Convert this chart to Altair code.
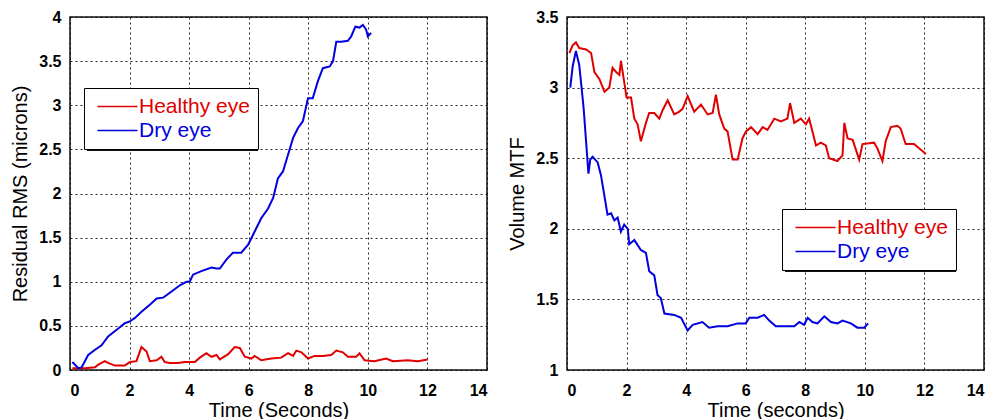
import altair as alt
import pandas as pd

# ---------------- data ----------------
# Left panel: Residual RMS (microns)
lh_t = [0.08, 0.50, 0.84, 0.95, 1.17, 1.28, 1.51, 1.84, 2.01, 2.23, 2.40, 2.57, 2.68, 2.91, 3.07, 3.18,
        3.35, 3.63, 3.85, 4.19, 4.36, 4.58, 4.75, 4.92, 5.03, 5.31, 5.53, 5.70, 5.87, 6.09, 6.20, 6.42,
        6.76, 7.09, 7.32, 7.49, 7.60, 7.77, 7.99, 8.21, 8.49, 8.77, 8.94, 9.16, 9.33, 9.61, 9.72, 9.89,
        10.22, 10.61, 10.84, 11.34, 11.68, 12.01]
lh_y = [0.02, 0.02, 0.03, 0.06, 0.10, 0.08, 0.05, 0.05, 0.09, 0.10, 0.26, 0.21, 0.10, 0.11, 0.15, 0.09,
        0.08, 0.08, 0.09, 0.09, 0.14, 0.19, 0.15, 0.17, 0.12, 0.18, 0.26, 0.25, 0.15, 0.13, 0.16, 0.11,
        0.13, 0.14, 0.19, 0.16, 0.22, 0.20, 0.13, 0.16, 0.16, 0.17, 0.22, 0.20, 0.15, 0.15, 0.19, 0.11,
        0.10, 0.13, 0.10, 0.11, 0.10, 0.12]

ld_t = [0.08, 0.28, 0.39, 0.61, 0.84, 1.06, 1.28, 1.62, 1.84, 2.01, 2.18, 2.40, 2.68, 2.91, 3.13, 3.41,
        3.69, 3.91, 4.02, 4.13, 4.41, 4.75, 4.92, 5.03, 5.25, 5.47, 5.75, 5.98, 6.20, 6.42, 6.65, 6.82,
        6.98, 7.15, 7.32, 7.49, 7.65, 7.82, 7.99, 8.15, 8.32, 8.49, 8.72, 8.83, 8.94, 9.11, 9.33, 9.44,
        9.58, 9.72, 9.83, 9.94, 10.00, 10.11]
ld_y = [0.09, 0.02, 0.03, 0.17, 0.23, 0.28, 0.38, 0.47, 0.53, 0.55, 0.59, 0.66, 0.74, 0.81, 0.82, 0.89,
        0.96, 1.00, 1.00, 1.08, 1.12, 1.16, 1.15, 1.15, 1.25, 1.33, 1.33, 1.42, 1.57, 1.72, 1.83, 1.95,
        2.17, 2.25, 2.44, 2.63, 2.74, 2.82, 3.08, 3.08, 3.27, 3.42, 3.44, 3.50, 3.72, 3.72, 3.73, 3.78,
        3.89, 3.88, 3.91, 3.86, 3.78, 3.82]

# Right panel: Volume MTF
rh_t = [0.08, 0.19, 0.30, 0.41, 0.64, 0.81, 0.92, 1.09, 1.26, 1.42, 1.53, 1.65, 1.76, 1.81, 1.92, 2.00,
        2.15, 2.26, 2.37, 2.48, 2.65, 2.76, 2.93, 3.10, 3.21, 3.38, 3.60, 3.77, 3.88, 4.05, 4.27, 4.50,
        4.72, 4.89, 5.00, 5.11, 5.28, 5.39, 5.56, 5.73, 5.89, 6.01, 6.18, 6.40, 6.57, 6.73, 6.96, 7.18,
        7.40, 7.49, 7.63, 7.85, 8.02, 8.13, 8.36, 8.52, 8.69, 8.80, 9.08, 9.25, 9.31, 9.42, 9.59, 9.81,
        9.92, 10.31, 10.42, 10.59, 10.70, 10.87, 11.09, 11.20, 11.37, 11.65, 11.82, 12.05]
rh_y = [3.245, 3.30, 3.32, 3.28, 3.27, 3.245, 3.11, 3.06, 2.97, 3.00, 3.14, 3.11, 3.09, 3.19, 3.04, 2.93,
        2.93, 2.78, 2.74, 2.62, 2.75, 2.82, 2.82, 2.78, 2.84, 2.91, 2.81, 2.83, 2.85, 2.94, 2.83, 2.88,
        2.81, 2.82, 2.95, 2.81, 2.71, 2.69, 2.49, 2.49, 2.64, 2.69, 2.72, 2.67, 2.72, 2.70, 2.78, 2.76,
        2.78, 2.89, 2.75, 2.78, 2.74, 2.78, 2.59, 2.61, 2.59, 2.50, 2.48, 2.52, 2.75, 2.64, 2.63, 2.49,
        2.60, 2.61, 2.57, 2.48, 2.62, 2.72, 2.73, 2.71, 2.60, 2.60, 2.57, 2.53]

rd_t = [0.11, 0.19, 0.30, 0.41, 0.49, 0.56, 0.64, 0.72, 0.78, 0.86, 1.03, 1.14, 1.25, 1.36, 1.48, 1.59,
        1.70, 1.81, 1.92, 2.04, 2.09, 2.26, 2.48, 2.65, 2.76, 2.93, 3.04, 3.15, 3.27, 3.60, 3.83, 4.05,
        4.22, 4.55, 4.77, 5.06, 5.39, 5.73, 6.00, 6.12, 6.40, 6.62, 6.79, 7.01, 7.35, 7.63, 7.80, 7.96,
        8.08, 8.24, 8.41, 8.64, 8.86, 9.08, 9.25, 9.53, 9.75, 9.98, 10.11]
rd_y = [3.00, 3.15, 3.26, 3.16, 3.00, 2.85, 2.62, 2.39, 2.49, 2.51, 2.47, 2.38, 2.24, 2.10, 2.11, 2.06,
        2.08, 1.98, 2.03, 2.00, 1.89, 1.92, 1.85, 1.83, 1.70, 1.67, 1.53, 1.51, 1.40, 1.39, 1.37, 1.28,
        1.32, 1.34, 1.30, 1.31, 1.31, 1.33, 1.33, 1.37, 1.37, 1.39, 1.35, 1.31, 1.31, 1.31, 1.34, 1.32,
        1.37, 1.34, 1.33, 1.38, 1.34, 1.33, 1.35, 1.33, 1.30, 1.30, 1.33]

series_names = ["Healthy eye", "Dry eye"]
series_colors = ["#e00000", "#0000e0"]
x_ticks = [0, 2, 4, 6, 8, 10, 12, 14]
left_y_ticks = [0, 0.5, 1, 1.5, 2, 2.5, 3, 3.5, 4]
right_y_ticks = [1, 1.5, 2, 2.5, 3, 3.5]

FONT = "Liberation Sans"
W, H = 417, 353
LEG_W, LEG_H = 171, 60


def frame(t1, y1, t2, y2):
    return pd.concat([
        pd.DataFrame({"t": t1, "v": y1, "series": series_names[0]}),
        pd.DataFrame({"t": t2, "v": y2, "series": series_names[1]}),
    ], ignore_index=True)


left_df = frame(lh_t, lh_y, ld_t, ld_y)
right_df = frame(rh_t, rh_y, rd_t, rd_y)

label_color = alt.ExprRef("datum.label === 'Healthy eye' ? '#e00000' : '#0000e0'")


def panel(df, xtitle, ytitle, ydom, yticks, lx, ly):
    color = alt.Color(
        "series:N",
        scale=alt.Scale(domain=series_names, range=series_colors),
        sort=series_names,
        legend=alt.Legend(
            title=None, orient="none", legendX=lx, legendY=ly,
            labelFont=FONT, labelFontSize=21, labelColor=label_color,
            symbolType="M-1,0H7", symbolSize=100, symbolStrokeWidth=1.6,
            labelOffset=26, padding=8, rowPadding=2,
            strokeColor="#000", fillColor="#fff", cornerRadius=0,
        ),
    )
    lines = alt.Chart(df).mark_line(strokeWidth=2).encode(
        x=alt.X("t:Q", title=xtitle,
                scale=alt.Scale(domain=[0, 14], nice=False),
                axis=alt.Axis(values=x_ticks, format="~g")),
        y=alt.Y("v:Q", title=ytitle,
                scale=alt.Scale(domain=ydom, nice=False, zero=False),
                axis=alt.Axis(values=yticks, format="~g")),
        color=color,
        detail="series:N",
        order="t:Q",
    )
    shadow = alt.Chart(alt.Data(values=[{}])).mark_rect(color="#111").encode(
        x=alt.value(lx + 3), x2=alt.value(lx + 3 + LEG_W),
        y=alt.value(ly + 3), y2=alt.value(ly + 3 + LEG_H),
    )
    return alt.layer(shadow, lines).properties(width=W, height=H)


left = panel(left_df, "Time (Seconds)", "Residual RMS (microns)", [0, 4], left_y_ticks, 14, 71)
right = panel(right_df, "Time (seconds)", "Volume MTF", [1, 3.5], right_y_ticks, 215, 192)

chart = alt.hconcat(left, right, spacing=19).resolve_legend(color="independent").properties(
    padding={"left": 2, "top": 0, "right": 0, "bottom": 0}
).configure_view(
    stroke="#111", strokeWidth=1.5
).configure_axis(
    labelFont=FONT, labelFontSize=16, labelFontWeight="bold", labelColor="#000",
    titleFont=FONT, titleFontSize=20, titleFontWeight="normal", titleColor="#000",
    grid=True, gridColor="#000", gridDash=[2, 3], gridWidth=1, gridOpacity=0.85,
    domain=False, ticks=False, tickSize=0,
).configure_axisX(
    labelPadding=12, titlePadding=2,
).configure_axisY(
    labelPadding=9, titlePadding=8,
)

chart.save("out.html", embed_options={"renderer": "svg", "actions": False})
